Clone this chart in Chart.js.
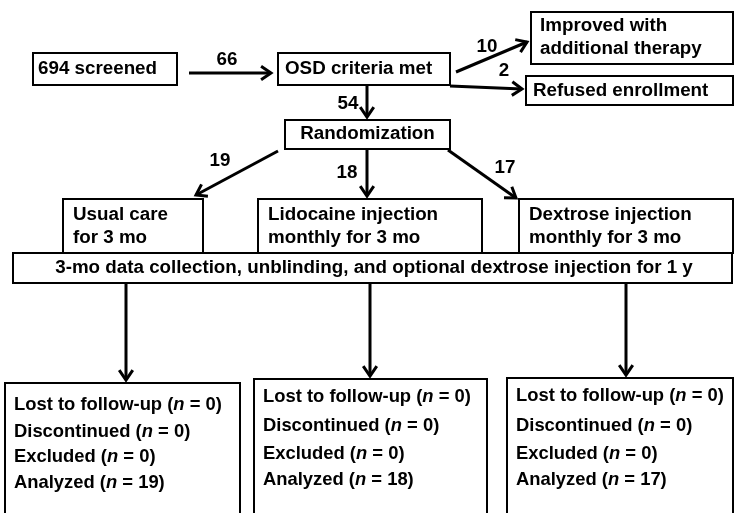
<!DOCTYPE html>
<html>
<head>
<meta charset="utf-8">
<script src="https://cdn.jsdelivr.net/npm/chart.js@4"></script>
<style>
  body { margin: 0; background: #fff; }
  canvas { display: block; }
</style>
</head>
<body>
<canvas id="flow" width="734" height="513"></canvas>
<script>
// counts
const screenedN = 694;
const stepCounts = [66, 10, 2, 54];          // to OSD, improved, refused, randomized
const armNames = ["Usual care", "Lidocaine injection", "Dextrose injection"];
const armSub = ["for 3 mo", "monthly for 3 mo", "monthly for 3 mo"];
const armN = [19, 18, 17];
const lostN = [0, 0, 0];
const discontinuedN = [0, 0, 0];
const excludedN = [0, 0, 0];
const analyzedN = [19, 18, 17];

// layout (diagram units = pixels of the original figure)
const boxScreened = [33, 53, 177, 85];
const boxOsd = [278, 53, 450, 85];
const boxImproved = [531, 12, 733, 64];
const boxRefused = [526, 76, 733, 105];
const boxRandom = [285, 120, 450, 149];
const boxArms = [[63, 199, 203, 253], [258, 199, 482, 253], [519, 199, 733, 253]];
const boxCollect = [13, 253, 732, 283];
const boxOutcome = [[5, 383, 240, 530], [254, 379, 487, 530], [507, 378, 733, 530]];
const outcomeRows = [[405, 432, 457, 483], [397, 426, 454, 480], [396, 426, 454, 480]];

// arrows: [x1, y1, x2, y2, label, labelX, labelY]
const arrows = [
  [189, 73, 271, 73, stepCounts[0], 227, 60],
  [456, 72, 527, 42, stepCounts[1], 487, 47],
  [450, 86, 522, 89, stepCounts[2], 504, 71],
  [367, 86, 367, 117, stepCounts[3], 348, 104],
  [278, 151, 196, 195, armN[0], 220, 161],
  [367, 150, 367, 196, armN[1], 347, 173],
  [448, 150, 516, 198, armN[2], 505, 168],
  [126, 284, 126, 380],
  [370, 284, 370, 376],
  [626, 284, 626, 375]
];

const FONT = "'Liberation Sans', Arial, sans-serif";
const SIZE = 18.8;
const SIZE_OUT = 18.4;

const datasets = arrows.map((a) => ({
  data: [{ x: a[0], y: a[1] }, { x: a[2], y: a[3] }],
  showLine: true,
  borderColor: "#000",
  borderWidth: 3,
  pointRadius: 0,
  pointHoverRadius: 0
}));

function richText(ctx, parts, x, y, size) {
  let cx = x;
  parts.forEach((p) => {
    ctx.font = (p[1] ? "italic bold " : "bold ") + size + "px " + FONT;
    ctx.fillText(p[0], cx, y);
    cx += ctx.measureText(p[0]).width;
  });
}

const flowPlugin = {
  id: "flow",
  beforeDraw(chart) {
    const ctx = chart.ctx;
    ctx.save();
    ctx.fillStyle = "#fff";
    ctx.fillRect(0, 0, chart.width, chart.height);
    ctx.restore();
  },
  afterDraw(chart) {
    const ctx = chart.ctx;
    const sx = chart.scales.x, sy = chart.scales.y;
    const px = (v) => sx.getPixelForValue(v);
    const py = (v) => sy.getPixelForValue(v);

    ctx.save();
    ctx.strokeStyle = "#000";
    ctx.fillStyle = "#000";

    function box(b) {
      ctx.lineWidth = 2;
      ctx.strokeRect(px(b[0]), py(b[1]), px(b[2]) - px(b[0]), py(b[3]) - py(b[1]));
    }
    function text(t, x, y, align) {
      ctx.font = "bold " + SIZE + "px " + FONT;
      ctx.textAlign = align || "left";
      ctx.textBaseline = "middle";
      ctx.fillText(t, px(x), py(y));
    }

    box(boxScreened);
    text(screenedN + " screened", boxScreened[0] + 5, 69);
    box(boxOsd);
    text("OSD criteria met", boxOsd[0] + 7, 69);
    box(boxImproved);
    text("Improved with", boxImproved[0] + 9, 26);
    text("additional therapy", boxImproved[0] + 9, 49);
    box(boxRefused);
    text("Refused enrollment", boxRefused[0] + 7, 91);
    box(boxRandom);
    text("Randomization", (boxRandom[0] + boxRandom[2]) / 2, 134, "center");

    boxArms.forEach((b, i) => {
      box(b);
      text(armNames[i], b[0] + 10, 215);
      text(armSub[i], b[0] + 10, 238);
    });

    box(boxCollect);
    text("3-mo data collection, unblinding, and optional dextrose injection for 1 y", 374, 268, "center");

    boxOutcome.forEach((b, i) => {
      box(b);
      const rows = [
        ["Lost to follow-up (", lostN[i]],
        ["Discontinued (", discontinuedN[i]],
        ["Excluded (", excludedN[i]],
        ["Analyzed (", analyzedN[i]]
      ];
      ctx.textAlign = "left";
      ctx.textBaseline = "middle";
      rows.forEach((r, k) => {
        richText(ctx, [[r[0], false], ["n", true], [" = " + r[1] + ")", false]],
          px(b[0] + 9), py(outcomeRows[i][k]), SIZE_OUT);
      });
    });

    // arrow heads and count labels
    arrows.forEach((a) => {
      const x1 = px(a[0]), y1 = py(a[1]), x2 = px(a[2]), y2 = py(a[3]);
      const ang = Math.atan2(y2 - y1, x2 - x1);
      const len = 12, spread = 0.6;
      ctx.lineWidth = 3;
      ctx.lineJoin = "miter";
      ctx.beginPath();
      ctx.moveTo(x2 - len * Math.cos(ang - spread), y2 - len * Math.sin(ang - spread));
      ctx.lineTo(x2, y2);
      ctx.lineTo(x2 - len * Math.cos(ang + spread), y2 - len * Math.sin(ang + spread));
      ctx.stroke();
      if (a[4] !== undefined) text(String(a[4]), a[5], a[6], "center");
    });
    ctx.restore();
  }
};

new Chart(document.getElementById("flow"), {
  type: "scatter",
  data: { datasets: datasets },
  options: {
    responsive: false,
    animation: false,
    devicePixelRatio: 1,
    layout: { padding: 0 },
    plugins: { legend: { display: false }, tooltip: { enabled: false } },
    events: [],
    scales: {
      x: { type: "linear", min: 0, max: 734, display: false },
      y: { type: "linear", min: 0, max: 513, reverse: true, display: false }
    }
  },
  plugins: [flowPlugin]
});
</script>
</body>
</html>
